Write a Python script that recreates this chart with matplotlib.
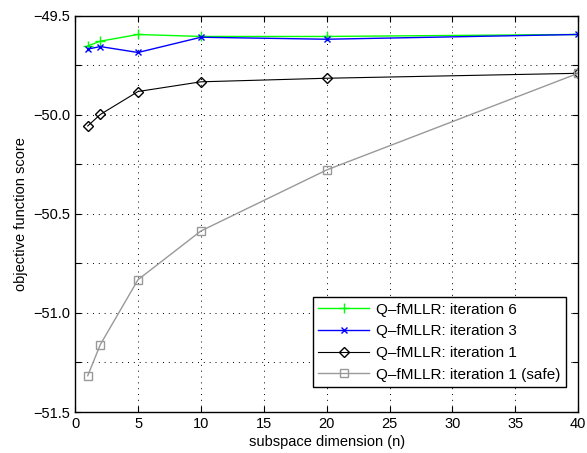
import numpy as np
import matplotlib
matplotlib.use("Agg")
import matplotlib.pyplot as plt

plt.rcParams['font.family'] = ['Liberation Sans', 'DejaVu Sans']

# subspace dimensions and objective function scores
dims = [1, 2, 5, 10, 20, 40]
iter6 = [-49.652, -49.628, -49.594, -49.604, -49.604, -49.594]
iter3 = [-49.668, -49.655, -49.685, -49.608, -49.618, -49.594]
iter1 = [-50.056, -49.998, -49.882, -49.833, -49.815, -49.790]
iter1_safe = [-51.317, -51.160, -50.832, -50.586, -50.278, -49.790]

fig = plt.figure(figsize=(5.87, 4.53), dpi=100)
ax = fig.add_axes([0.128, 0.0905, 0.857, 0.8745])

ax.plot(dims, iter6, color=(0, 1, 0), marker='+', markersize=7, lw=1,
        label="Q\u2013fMLLR: iteration 6")
ax.plot(dims, iter3, color=(0, 0, 1), marker='x', markersize=5, lw=1,
        label="Q\u2013fMLLR: iteration 3")
ax.plot(dims, iter1, color='k', marker='D', markersize=5.5, mfc='none', lw=0.8,
        label="Q\u2013fMLLR: iteration 1")
ax.plot(dims, iter1_safe, color=(0.6, 0.6, 0.6), marker='s', markersize=6, mfc='none', lw=1,
        label="Q\u2013fMLLR: iteration 1 (safe)")

ax.set_xlim(0, 40)
ax.set_ylim(-51.5, -49.5)
ax.set_xticks(np.arange(0, 41, 5))
yt = np.arange(-51.5, -49.49, 0.25)
ax.set_yticks(yt)
ax.set_yticklabels([f"{v:.1f}".replace('-', '\u2212') if abs(v * 2 - round(v * 2)) < 1e-6 else '' for v in yt])
ax.tick_params(direction='in', top=True, right=True, labelsize=10.5, length=4)
ax.grid(True, linestyle=(0, (1, 5)), color='k', lw=0.7)
for s in ax.spines.values():
    s.set_linewidth(1)

ax.set_xlabel("subspace dimension (n)", fontsize=10.5, labelpad=3)
ax.set_ylabel("objective function score", fontsize=10.5, labelpad=4)

leg = ax.legend(loc='lower right', bbox_to_anchor=(0.976, 0.063), fontsize=11, fancybox=False,
                framealpha=1, edgecolor='k', borderpad=0.35, labelspacing=0.5,
                handlelength=3.3, handletextpad=0.5, borderaxespad=0)
leg.get_frame().set_linewidth(1)

fig.savefig("out.png", dpi=100)
